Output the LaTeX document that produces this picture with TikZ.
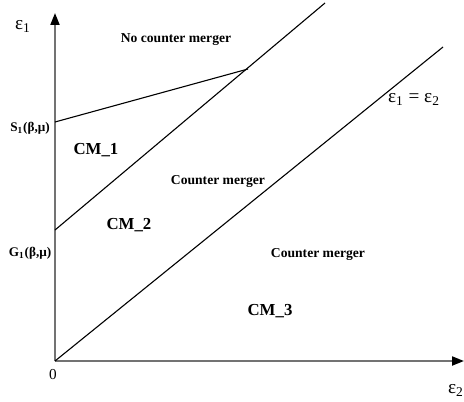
\documentclass[tikz,border=0pt]{standalone}
\usepackage{fontspec}
\setmainfont{Liberation Serif}
\usetikzlibrary{arrows.meta}
\tikzset{
  >={Triangle[length=6pt,width=4.5pt,color=black]},
  axis/.style={->, draw=black!55, line width=1pt},
  bound/.style={draw=black, line width=0.55pt},
  region/.style={font=\bfseries\fontsize{6.8}{8}\selectfont, inner sep=0pt},
  cmlabel/.style={font=\bfseries\fontsize{8.4}{10}\selectfont, inner sep=0pt},
  ticklabel/.style={font=\bfseries\fontsize{6.6}{8}\selectfont, inner sep=0pt},
  varlabel/.style={font=\fontsize{9.6}{11}\selectfont, inner sep=0pt}
}
\begin{document}
\begin{tikzpicture}[x=0.5pt,y=-0.5pt]
\useasboundingbox (0,0) rectangle (464,401);
% axes
\coordinate (O) at (55,361);
\coordinate (ytop) at (55,13);
\coordinate (xend) at (464,361);
\draw[axis] (O)--(ytop);
\draw[axis] (O)--(xend);
\node[varlabel] (eps1) at (23,26) {ε\textsubscript{1}};
\node[varlabel] (eps2) at (456,390) {ε\textsubscript{2}};
\node[font=\fontsize{7.6}{9}\selectfont, inner sep=0pt] (zero) at (53,375) {0};
% boundaries
\coordinate (S1) at (55,122);
\coordinate (G1) at (55,230);
\coordinate (meet) at (248,69);
\coordinate (Gtop) at (325,3);
\coordinate (diag) at (443,47);
\draw[bound] (S1)--(meet);
\draw[bound] (G1)--(Gtop);
\draw[bound] (O)--(diag);
\node[ticklabel] (s1lab) at (30,128) {S\textsubscript{1}(β,μ)};
\node[ticklabel] (g1lab) at (30,253) {G\textsubscript{1}(β,μ)};
\node[varlabel] (diaglab) at (414,99) {ε\textsubscript{1} = ε\textsubscript{2}};
% regions
\node[region] (ncm) at (176,40) {No counter merger};
\node[cmlabel] (cm1) at (96,150) {CM\_1};
\node[region] (cmA) at (218,181) {Counter merger};
\node[cmlabel] (cm2) at (129,225) {CM\_2};
\node[region] (cmB) at (318,254) {Counter merger};
\node[cmlabel] (cm3) at (270,311) {CM\_3};
\end{tikzpicture}
\end{document}
